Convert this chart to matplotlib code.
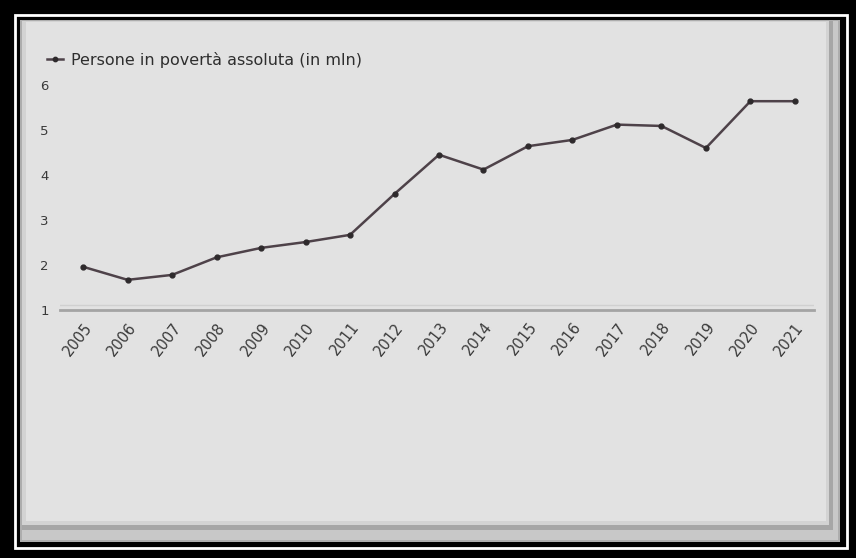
import matplotlib.pyplot as plt
from matplotlib.patches import Rectangle

# data: people in absolute poverty (millions)
years = list(range(2005, 2022))
persone = [1.96, 1.67, 1.78, 2.17, 2.38, 2.51, 2.67, 3.58, 4.45, 4.12,
           4.64, 4.78, 5.12, 5.09, 4.60, 5.64, 5.64]
yticks = [1, 2, 3, 4, 5, 6]
serie = "Persone in povertà assoluta (in mln)"

W, H = 856, 558
fig = plt.figure(figsize=(W / 100, H / 100), dpi=100)
fig.patch.set_facecolor("black")


def box(x0, y0, x1, y1, **kw):
    # rectangle in pixel coords (y from top), drawn behind the axes
    r = Rectangle((x0 / W, 1 - y1 / H), (x1 - x0) / W, (y1 - y0) / H,
                  transform=fig.transFigure, zorder=-10, **kw)
    fig.patches.append(r)


# frame: white thin line, then the grey panel with a soft shadow
box(15, 15, 847, 548, facecolor="none", edgecolor="white", linewidth=2)
box(20, 20, 840, 542, facecolor="#adadad", edgecolor="none")
box(22, 21, 838, 540, facecolor="#c8c8c8", edgecolor="none")
box(22, 21, 833, 530, facecolor="#a6a6a6", edgecolor="none")
box(22, 21, 829, 525, facecolor="#d3d3d3", edgecolor="none")
box(26, 22, 826, 521, facecolor="#e2e2e2", edgecolor="none")

ax = fig.add_axes([60 / W, 1 - 310 / H, 754 / W, 234 / H])
ax.patch.set_alpha(0)

ax.plot(years, persone, color="#4e4249", linewidth=1.8, marker="o",
        markersize=3.5, markerfacecolor="#2e2a2c", markeredgecolor="#2e2a2c",
        label=serie)

ax.set_xlim(2004.48, 2021.43)
ax.set_ylim(1, 6.2)
ax.set_yticks(yticks)
ax.set_yticklabels([str(v) for v in yticks], fontsize=9.5, color="#3a3a3a")
ax.set_xticks(years)
ax.set_xticklabels([str(y) for y in years], rotation=52, ha="right",
                   rotation_mode="anchor", fontsize=10.5, color="#3a3a3a")
ax.tick_params(axis="both", length=0, pad=7)
ax.tick_params(axis="y", pad=8)

for s in ["top", "right", "left"]:
    ax.spines[s].set_visible(False)
ax.spines["bottom"].set_color("#a4a4a4")
ax.spines["bottom"].set_linewidth(2)
ax.axhline(1.12, color="#d0d0d0", linewidth=1)

ax.legend(loc="center left", bbox_to_anchor=(33 / W, 1 - 60 / H),
          bbox_transform=fig.transFigure, frameon=False, fontsize=11.5,
          handlelength=1.0, handletextpad=0.5, labelcolor="#2e2e2e",
          markerscale=0.9)

fig.savefig("out.png", dpi=100, facecolor=fig.get_facecolor())
